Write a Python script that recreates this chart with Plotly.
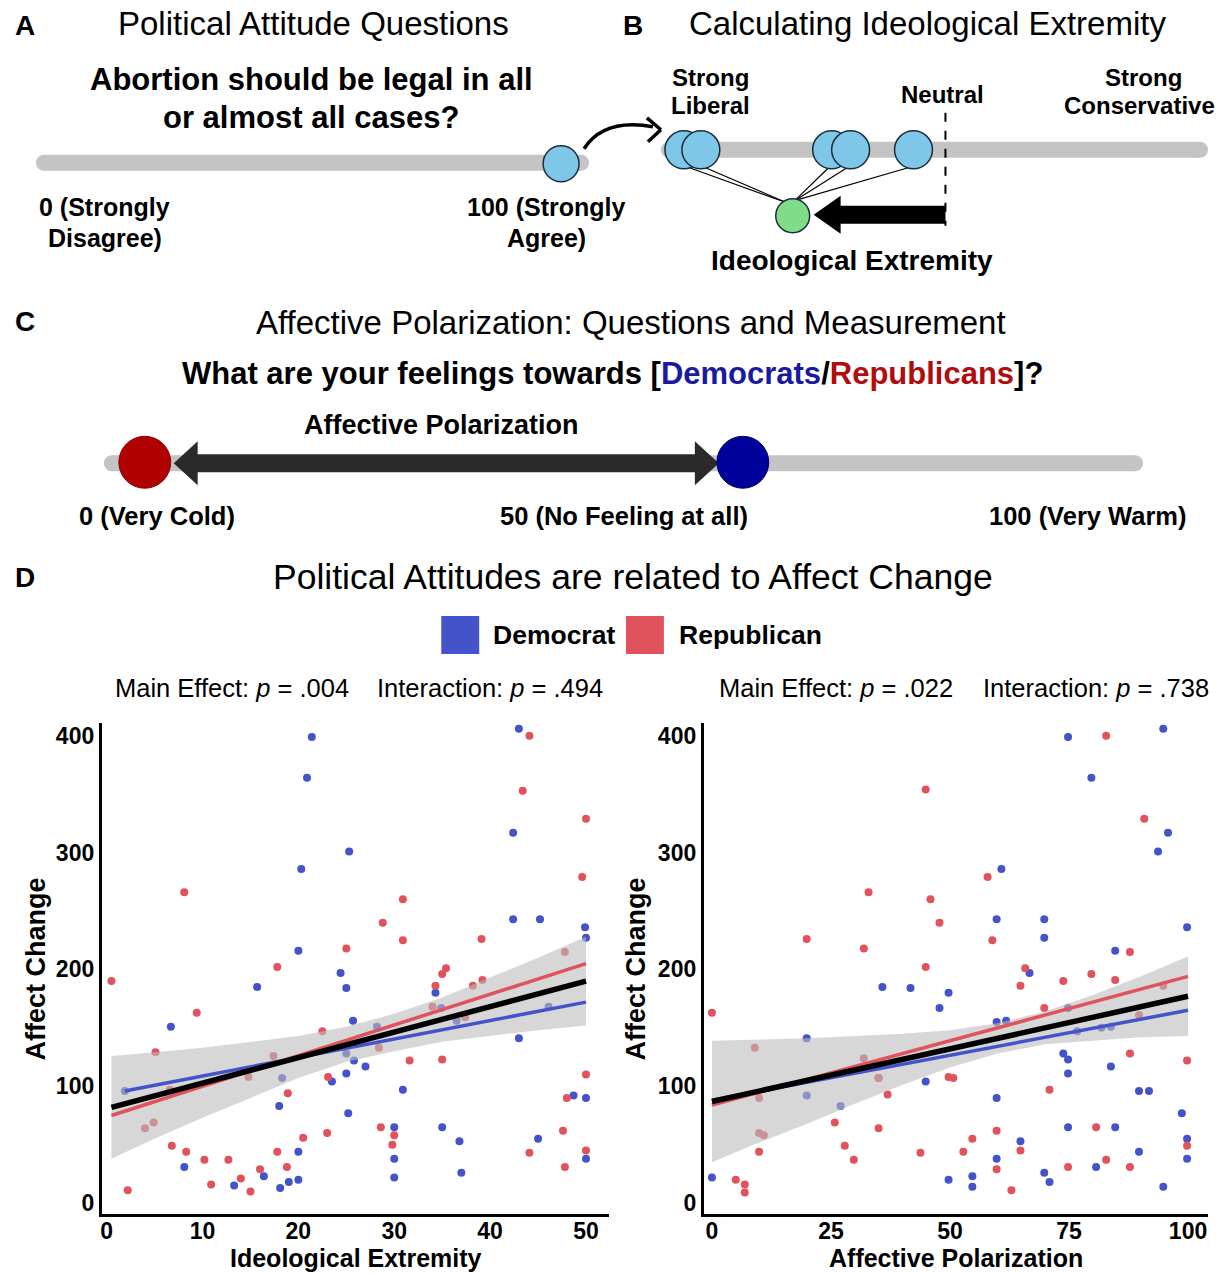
import plotly.graph_objects as go

W, H = 1222, 1274
FONT = "Liberation Sans, Arial, sans-serif"

# ---------------- DATA ----------------
# Panel D left: Ideological Extremity vs Affect Change
ideo_dem_x = [21.4, 20.9, 25.3, 20.3, 20.0, 24.4, 25.0, 15.7, 6.7, 25.7, 25.0, 18.3, 23.5, 25.0, 1.9,
              18.0, 25.2, 20.0, 8.1, 16.4, 13.3, 18.1, 19.0, 20.0,
              43.0, 42.4, 42.4, 45.2, 49.9, 50.0, 34.3, 34.9, 36.5, 46.1, 28.2, 25.8, 27.0, 43.0,
              30.9, 48.7, 50.0, 30.0, 30.0, 30.0, 35.0, 36.8, 37.0, 45.0, 50.0]
ideo_dem_y = [399, 364, 301, 286, 216, 197, 184, 185, 151, 156, 128, 107, 104, 111, 96,
              83, 77, 44, 31, 23, 15, 13, 18, 20,
              406, 317, 243, 243, 236, 227, 180, 167, 156, 168, 151, 122, 117, 141,
              97, 92, 90, 65, 38, 22, 65, 53, 26, 55, 38]
ideo_rep_x = [8.1, 25.0, 17.8, 0.5, 9.4, 22.5, 5.1, 17.4, 14.8, 23.1, 6.6, 18.9, 4.0, 4.9, 23.0,
              20.5, 6.8, 8.3, 17.8, 10.2, 12.7, 16.0, 18.8, 14.0, 10.9, 15.0, 2.2,
              44.1, 43.4, 50.0, 49.6, 30.9, 28.8, 30.9, 39.1, 47.8, 35.4, 35.0, 34.3, 38.2, 39.2,
              34.0, 37.4, 28.4, 31.6, 35.0, 50.0, 48.0, 28.6, 30.0, 29.8, 44.1, 47.6, 50.0, 47.8]
ideo_rep_y = [266, 218, 202, 190, 163, 147, 129, 126, 108, 108, 97, 94, 64, 69, 60,
              56, 49, 44, 44, 37, 37, 29, 31, 21, 16, 10, 11,
              400, 353, 329, 279, 260, 240, 225, 226, 215, 201, 196, 186, 186, 191,
              168, 159, 133, 122, 123, 110, 90, 65, 58, 50, 43, 62, 45, 31]

# Fitted lines (left)
ideo_fit_x = [0.5, 50.0]
ideo_fit_all = [82, 190]
ideo_fit_rep = [75, 205]
ideo_fit_dem_x = [1.9, 50.0]
ideo_fit_dem = [96, 172]
ideo_band_x = [0.5, 5, 10, 15, 20, 25, 30, 35, 40, 45, 50]
ideo_band_hi = [126, 129, 133, 138, 143, 151, 162, 176, 193, 210, 228]
ideo_band_lo = [38, 55, 73, 90, 107, 121, 130, 138, 143, 148, 152]

# Panel D right: Affective Polarization vs Affect Change
aff_dem_x = [35.8, 41.7, 49.7, 47.8, 19.9, 35.0, 44.9, 19.9, 27.0, 0.0, 49.7,
             74.8, 94.8, 79.7, 95.8, 93.7, 60.8, 59.8, 69.8, 99.8, 69.8, 84.7, 66.7, 74.8, 59.8,
             61.8, 76.7, 81.8, 83.8, 73.8, 74.8, 74.8, 83.8, 89.7, 91.8, 59.8, 98.7, 74.8, 84.7,
             64.8, 99.8, 89.7, 99.8, 59.8, 80.7, 54.7, 54.7, 69.8, 70.9, 94.8]
aff_dem_y = [185, 184, 180, 167, 141, 107, 104, 92, 83, 22, 20,
             399, 406, 364, 317, 301, 286, 243, 243, 236, 227, 216, 197, 167, 155,
             156, 147, 150, 151, 128, 123, 111, 117, 96, 96, 90, 77, 65, 65,
             53, 55, 44, 38, 38, 31, 23, 14, 26, 18, 14]
aff_rep_x = [44.9, 32.9, 45.9, 47.8, 19.9, 31.9, 44.9, 0.0, 9.0, 31.9, 35.0, 49.7, 9.9, 36.9,
             9.9, 10.9, 25.8, 35.0, 9.9, 27.9, 29.8, 43.8, 5.0, 6.9, 6.9,
             82.8, 90.8, 57.9, 58.9, 87.8, 65.8, 64.8, 73.8, 79.7, 84.7, 69.8, 94.8, 89.7, 50.7,
             87.8, 99.8, 70.9, 80.7, 54.7, 59.8, 64.8, 52.8, 99.8, 59.8, 74.8, 82.8, 87.8, 62.9]
aff_rep_y = [354, 266, 260, 240, 226, 218, 202, 163, 133, 124, 107, 108, 90, 93,
             60, 58, 69, 64, 44, 49, 37, 43, 20, 16, 9,
             400, 329, 279, 225, 215, 201, 186, 190, 196, 191, 167, 186, 161, 107,
             128, 122, 97, 65, 55, 62, 45, 44, 49, 29, 31, 37, 31, 11]

aff_fit_x = [0.0, 100.0]
aff_fit_all = [87, 177]
aff_fit_rep = [84, 194]
aff_fit_dem = [88, 165]
aff_band_x = [0, 10, 20, 30, 40, 50, 60, 70, 80, 90, 100]
aff_band_hi = [139, 140, 141, 143, 145, 148, 154, 164, 178, 194, 211]
aff_band_lo = [35, 52, 68, 85, 101, 116, 128, 136, 139, 142, 143]

x_ticks_left = [0, 10, 20, 30, 40, 50]
x_ticks_right = [0, 25, 50, 75, 100]
y_ticks = [0, 100, 200, 300, 400]

BLUE = "#4453C9"
RED = "#E0535C"
BAND = "rgba(188,188,188,0.6)"

# ---------------- FIGURE ----------------
fig = go.Figure()


def add_panel(xa, ya, dx, dy, rx, ry, fx, f_all, f_rep, fdx, f_dem, bx, bhi, blo):
    fig.add_trace(go.Scatter(x=dx, y=dy, mode="markers", xaxis=xa, yaxis=ya,
                             marker=dict(color=BLUE, size=8), showlegend=False))
    fig.add_trace(go.Scatter(x=rx, y=ry, mode="markers", xaxis=xa, yaxis=ya,
                             marker=dict(color=RED, size=8), showlegend=False))
    fig.add_trace(go.Scatter(x=list(bx) + list(bx)[::-1], y=list(bhi) + list(blo)[::-1],
                             fill="toself", fillcolor=BAND, line=dict(width=0),
                             mode="lines", xaxis=xa, yaxis=ya, showlegend=False))
    fig.add_trace(go.Scatter(x=fdx, y=f_dem, mode="lines", xaxis=xa, yaxis=ya,
                             line=dict(color=BLUE, width=3.5), showlegend=False))
    fig.add_trace(go.Scatter(x=fx, y=f_rep, mode="lines", xaxis=xa, yaxis=ya,
                             line=dict(color=RED, width=3.5), showlegend=False))
    fig.add_trace(go.Scatter(x=fx, y=f_all, mode="lines", xaxis=xa, yaxis=ya,
                             line=dict(color="black", width=5.5), showlegend=False))


add_panel("x", "y", ideo_dem_x, ideo_dem_y, ideo_rep_x, ideo_rep_y,
          ideo_fit_x, ideo_fit_all, ideo_fit_rep, ideo_fit_dem_x, ideo_fit_dem,
          ideo_band_x, ideo_band_hi, ideo_band_lo)
add_panel("x2", "y2", aff_dem_x, aff_dem_y, aff_rep_x, aff_rep_y,
          aff_fit_x, aff_fit_all, aff_fit_rep, aff_fit_x, aff_fit_dem,
          aff_band_x, aff_band_hi, aff_band_lo)


def X(p):
    return p / W


def Y(p):
    return 1 - p / H


tickfont = dict(family=FONT, size=23, color="black", weight="bold")
axis_common = dict(showline=True, linecolor="black", linewidth=3, showgrid=False,
                   zeroline=False, ticks="", tickfont=tickfont, fixedrange=True)

fig.update_layout(
    width=W, height=H, margin=dict(l=0, r=0, t=0, b=0),
    paper_bgcolor="white", plot_bgcolor="rgba(0,0,0,0)",
    xaxis=dict(domain=[X(100), X(608)], range=[-0.5, 52.4], tickvals=x_ticks_left,
               anchor="y", ticklabelstandoff=-6, **axis_common),
    yaxis=dict(domain=[Y(1216), Y(724)], range=[-9.4, 411], tickvals=y_ticks,
               anchor="x", **axis_common),
    xaxis2=dict(domain=[X(703), X(1208)], range=[-1.7, 104.2], tickvals=x_ticks_right,
                anchor="y2", ticklabelstandoff=-6, **axis_common),
    yaxis2=dict(domain=[Y(1216), Y(724)], range=[-9.4, 411], tickvals=y_ticks,
                anchor="x2", **axis_common),
    showlegend=False,
)

shapes = []
annots = []


def rect(x0, y0, x1, y1, color, line=None, lw=0):
    shapes.append(dict(type="rect", xref="paper", yref="paper",
                       x0=X(x0), x1=X(x1), y0=Y(y1), y1=Y(y0),
                       fillcolor=color, line=dict(width=lw, color=line or color), layer="above"))


def circle(cx, cy, r, color, line="black", lw=1.5):
    shapes.append(dict(type="circle", xref="paper", yref="paper",
                       x0=X(cx - r), x1=X(cx + r), y0=Y(cy + r), y1=Y(cy - r),
                       fillcolor=color, line=dict(width=lw, color=line), layer="above"))


def bar(x0, x1, y, th, color="#C4C4C4"):
    rect(x0, y - th / 2, x1, y + th / 2, color)
    circle(x0, y, th / 2, color, color, 0)
    circle(x1, y, th / 2, color, color, 0)


def seg(x0, y0, x1, y1, color="black", w=1.2, dash="solid"):
    shapes.append(dict(type="line", xref="paper", yref="paper",
                       x0=X(x0), x1=X(x1), y0=Y(y0), y1=Y(y1),
                       line=dict(color=color, width=w, dash=dash), layer="above"))


def path(pts, color, closed=True, lw=0, fill=True):
    d = "M " + " L ".join(f"{X(a):.5f},{Y(b):.5f}" for a, b in pts)
    if closed:
        d += " Z"
    shapes.append(dict(type="path", xref="paper", yref="paper", path=d,
                       fillcolor=color if fill else "rgba(0,0,0,0)",
                       line=dict(color=color, width=lw), layer="above"))


def text(x, y, s, size, bold=False, anchor="center", color="black", angle=0):
    annots.append(dict(x=X(x), y=Y(y), xref="paper", yref="paper", text=s,
                       showarrow=False, xanchor=anchor, yanchor="middle", textangle=angle,
                       font=dict(family=FONT, size=size, color=color,
                                 weight="bold" if bold else "normal")))


# ---------- Panel A ----------
text(23, 26, "A", 28, bold=True)
text(312, 24, "Political Attitude Questions", 33)
text(310, 80, "Abortion should be legal in all", 31, bold=True)
text(310, 118, "or almost all cases?", 31, bold=True)
bar(42, 580, 163, 16)
circle(560, 164, 18, "#7EC7E9", "#1b2f3a", 1.5)
text(103, 207, "0 (Strongly", 25, bold=True)
text(103, 238, "Disagree)", 25, bold=True)
text(545, 207, "100 (Strongly", 25, bold=True)
text(545, 238, "Agree)", 25, bold=True)
# curved arrow
shapes.append(dict(type="path", xref="paper", yref="paper",
                   path=f"M {X(583)},{Y(149)} Q {X(603)},{Y(118)} {X(652)},{Y(127)}",
                   line=dict(color="black", width=3.5), layer="above"))
seg(660, 130, 646, 118, w=3.5)
seg(660, 130, 647, 142, w=3.5)

# ---------- Panel B ----------
text(632, 26, "B", 28, bold=True)
text(927, 24, "Calculating Ideological Extremity", 33)
text(710, 78, "Strong", 24, bold=True)
text(710, 106, "Liberal", 24, bold=True)
text(942, 95, "Neutral", 24, bold=True)
text(1143, 78, "Strong", 24, bold=True)
text(1139, 106, "Conservative", 24, bold=True)
bar(668, 1200, 150, 16)
for cx in [683, 700]:
    seg(cx, 166, 786, 203)
for cx in [831, 850, 913]:
    seg(cx - 2, 167, 794, 201)
for cx in [683, 700, 831, 850, 913]:
    circle(cx, 150, 19, "#7EC7E9", "#1b2f3a", 1.5)
seg(945, 113, 945, 226, w=2, dash="dash")
path([(945, 206), (840, 206), (840, 196), (813, 215), (840, 234), (840, 224), (945, 224)], "black")
circle(792, 216, 17, "#80DC88", "#1b2f3a", 1.5)
text(851, 261, "Ideological Extremity", 28, bold=True)

# ---------- Panel C ----------
text(23, 322, "C", 28, bold=True)
text(630, 323, "Affective Polarization: Questions and Measurement", 33)
text(612, 374, "What are your feelings towards [<span style='color:#1a1aa0'>Democrats</span>/"
               "<span style='color:#b00d0d'>Republicans</span>]?", 31, bold=True)
text(440, 426, "Affective Polarization", 27, bold=True)
bar(110, 1135, 464, 16)
path([(172, 464), (196, 442), (196, 455), (694, 455), (694, 442), (718, 464),
      (694, 486), (694, 473), (196, 473), (196, 486)], "#2a2a2a")
circle(143, 463, 26, "#B00000", "#8a0000", 1)
circle(742, 463, 26, "#00009A", "#00006a", 1)
text(155, 517, "0 (Very Cold)", 25.5, bold=True)
text(623, 517, "50 (No Feeling at all)", 25.5, bold=True)
text(1088, 517, "100 (Very Warm)", 25.5, bold=True)

# ---------- Panel D ----------
text(23, 578, "D", 28, bold=True)
text(632, 578, "Political Attitudes are related to Affect Change", 35.5)
rect(440, 617, 478, 655, BLUE)
text(490, 636, "Democrat", 26.5, bold=True, anchor="left")
rect(625, 617, 663, 655, RED)
text(676, 636, "Republican", 26.5, bold=True, anchor="left")
text(230, 689, "Main Effect: <i>p</i> = .004", 25.5)
text(489, 689, "Interaction: <i>p</i> = .494", 25.5)
text(835, 689, "Main Effect: <i>p</i> = .022", 25.5)
text(1096, 689, "Interaction: <i>p</i> = .738", 25.5)
text(35, 970, "Affect Change", 27, bold=True, angle=-90)
text(636, 970, "Affect Change", 27, bold=True, angle=-90)
text(355, 1260, "Ideological Extremity", 25, bold=True)
text(956, 1260, "Affective Polarization", 25, bold=True)

fig.update_layout(shapes=shapes, annotations=annots)

fig.write_html("out.html", config={"displayModeBar": False},
               post_script="document.body.style.margin='0';")
